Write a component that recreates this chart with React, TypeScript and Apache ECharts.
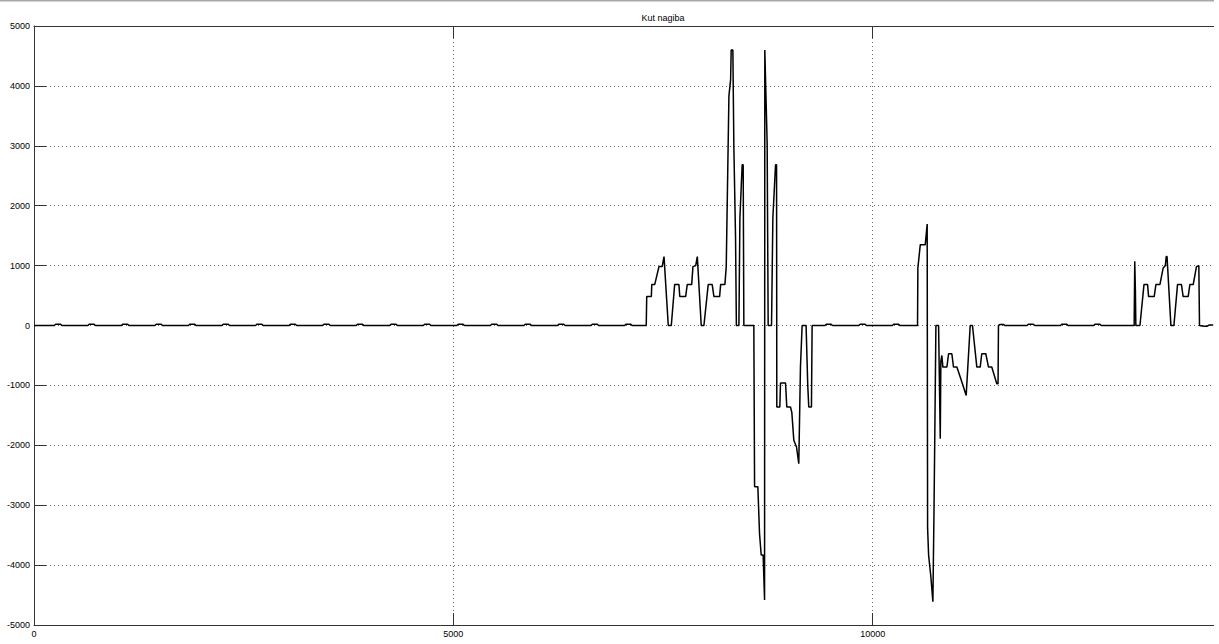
import React, { useEffect, useRef } from "react";
import * as echarts from "echarts";

const chartTitle = "Kut nagiba";
const xTicks = { min: 0, max: 15000, interval: 5000 };
const yTicks = { min: -5000, max: 5000, interval: 1000 };

const quiet1: [number, number][] = [
  [0, 0],
  [242, 0], [257, 20], [317, 20], [332, 0],
  [642, 0], [657, 20], [717, 20], [732, 0],
  [1042, 0], [1057, 20], [1117, 20], [1132, 0],
  [1442, 0], [1457, 20], [1517, 20], [1532, 0],
  [1842, 0], [1857, 20], [1917, 20], [1932, 0],
  [2242, 0], [2257, 20], [2317, 20], [2332, 0],
  [2642, 0], [2657, 20], [2717, 20], [2732, 0],
  [3042, 0], [3057, 20], [3117, 20], [3132, 0],
  [3442, 0], [3457, 20], [3517, 20], [3532, 0],
  [3842, 0], [3857, 20], [3917, 20], [3932, 0],
  [4242, 0], [4257, 20], [4317, 20], [4332, 0],
  [4642, 0], [4657, 20], [4717, 20], [4732, 0],
  [5042, 0], [5057, 20], [5117, 20], [5132, 0],
  [5442, 0], [5457, 20], [5517, 20], [5532, 0],
  [5842, 0], [5857, 20], [5917, 20], [5932, 0],
  [6242, 0], [6257, 20], [6317, 20], [6332, 0],
  [6642, 0], [6657, 20], [6717, 20], [6732, 0],
  [7042, 0], [7057, 20], [7117, 20], [7132, 0],
  [7300, 0],
];

const burst1: [number, number][] = [
  [7306, 483], [7361, 483], [7366, 683], [7401, 683], [7452, 983], [7490, 983],
  [7512, 1150], [7520, 1150], [7563, 0], [7599, 0], [7639, 683], [7690, 683],
  [7700, 483], [7770, 483], [7789, 683], [7842, 683], [7857, 983], [7890, 1000],
  [7909, 1150], [7915, 1150], [7956, 0], [7988, 0], [8039, 683], [8087, 683],
  [8107, 483], [8175, 483], [8187, 683], [8238, 683], [8254, 983], [8286, 3833],
  [8306, 4100], [8313, 4600], [8333, 4600], [8345, 2972], [8365, 1467], [8375, 0],
  [8405, 0], [8417, 1800], [8444, 2683], [8456, 2683], [8464, 0], [8583, 0],
  [8592, -2694], [8631, -2694], [8651, -3472], [8671, -3833], [8694, -3833],
  [8711, -4583], [8714, 4600], [8742, 3033], [8754, 0], [8794, 0], [8810, 1800],
  [8842, 2683], [8854, 2683], [8857, -1361], [8893, -1361], [8901, -961],
  [8961, -961], [8976, -1361], [9020, -1361], [9036, -1450], [9060, -1917],
  [9092, -2028], [9119, -2306], [9139, -694], [9159, 0], [9206, 0], [9226, -1000],
  [9238, -1361], [9270, -1361], [9278, 0],
];

const quiet2: [number, number][] = [
  [9431, 0], [9446, 20], [9506, 20], [9521, 0],
  [9835, 0], [9850, 20], [9910, 20], [9925, 0],
  [10235, 0], [10250, 20], [10310, 20], [10325, 0],
  [10535, 0],
];

const burst2: [number, number][] = [
  [10539, 961], [10568, 1350], [10627, 1350], [10650, 1694], [10655, -3383],
  [10667, -3833], [10694, -4194], [10718, -4611], [10730, -3250], [10740, -1944],
  [10754, 0], [10786, 0], [10806, -1889], [10813, -600], [10825, -500], [10837, -694],
  [10885, -694], [10905, -472], [10944, -472], [10964, -694], [11004, -694],
  [11044, -861], [11083, -1028], [11115, -1167], [11163, 0], [11190, 0],
  [11242, -694], [11282, -694], [11301, -472], [11349, -472], [11381, -694],
  [11420, -694], [11480, -972], [11495, -972], [11500, 0],
];

const quiet3: [number, number][] = [
  [11520, 18], [11560, 18], [11575, 0],
  [11841, 0], [11856, 20], [11916, 20], [11931, 0],
  [12240, 0], [12255, 20], [12315, 20], [12330, 0],
  [12635, 0], [12650, 20], [12710, 20], [12725, 0],
  [13118, 0],
];

const burst3: [number, number][] = [
  [13125, 1072], [13133, 550], [13138, 0], [13187, 0], [13235, 683], [13278, 683],
  [13290, 483], [13357, 483], [13377, 683], [13425, 683], [13464, 961], [13490, 1000],
  [13500, 1150], [13510, 1150], [13556, 0], [13592, 0], [13635, 683], [13682, 683],
  [13702, 483], [13762, 483], [13782, 683], [13822, 683], [13861, 983], [13889, 1000],
  [13897, 0], [13950, -12], [13990, -12], [14010, 8], [14060, 8],
];

const FONT = "'Liberation Sans', Arial, sans-serif";
const AXIS_COLOR = "#333";

export default function App() {
  const ref = useRef<HTMLDivElement>(null);
  useEffect(() => {
    if (!ref.current) return;
    const chart = echarts.init(ref.current, undefined, { renderer: "svg" });
    const data = [...quiet1, ...burst1, ...quiet2, ...burst2, ...quiet3, ...burst3];
    const axisCommon = {
      axisLine: { show: true, onZero: false, lineStyle: { color: AXIS_COLOR, width: 1 } },
      axisTick: { show: true, inside: true, length: 12, lineStyle: { color: AXIS_COLOR, width: 1 } },
    };
    const plain = (v: number) => String(v);
    chart.setOption({
      animation: false,
      backgroundColor: "#fff",
      grid: { left: 34, top: 26, width: 1258, height: 599, containLabel: false },
      graphic: [
        { type: "rect", shape: { x: 0, y: 0, width: 1400, height: 1.5 }, style: { fill: "#a8a8a8" }, silent: true },
        {
          type: "text",
          x: 663,
          y: 17.5,
          style: {
            text: chartTitle,
            fill: "#000",
            fontSize: 9,
            fontFamily: FONT,
            textAlign: "center",
            textVerticalAlign: "middle",
            align: "center",
            verticalAlign: "middle",
          },
        },
      ],
      xAxis: [
        {
          type: "value",
          position: "bottom",
          min: xTicks.min,
          max: xTicks.max,
          interval: xTicks.interval,
          ...axisCommon,
          axisLabel: {
            show: true, fontSize: 9, color: "#000", margin: 4, fontFamily: FONT,
            formatter: plain, showMaxLabel: false,
          },
          splitLine: { show: true, lineStyle: { type: [1, 3], color: "#666", width: 1 } },
        },
        {
          type: "value",
          position: "top",
          min: xTicks.min,
          max: xTicks.max,
          interval: xTicks.interval,
          ...axisCommon,
          axisLabel: { show: false },
          splitLine: { show: false },
        },
      ],
      yAxis: [
        {
          type: "value",
          position: "left",
          min: yTicks.min,
          max: yTicks.max,
          interval: yTicks.interval,
          ...axisCommon,
          axisLabel: { show: true, fontSize: 9, color: "#000", margin: 4, fontFamily: FONT, formatter: plain },
          splitLine: { show: true, lineStyle: { type: [1, 3], color: "#666", width: 1 } },
        },
      ],
      series: [
        {
          type: "line",
          xAxisIndex: 0,
          yAxisIndex: 0,
          data,
          showSymbol: false,
          symbol: "none",
          lineStyle: { color: "#000", width: 1.5 },
          clip: true,
        },
      ],
    });
    return () => chart.dispose();
  }, []);
  return (
    <div
      style={{
        position: "fixed",
        left: 0,
        top: 0,
        width: 1214,
        height: 644,
        overflow: "hidden",
        background: "#fff",
      }}
    >
      <div ref={ref} style={{ width: 1320, height: 644 }} />
    </div>
  );
}
